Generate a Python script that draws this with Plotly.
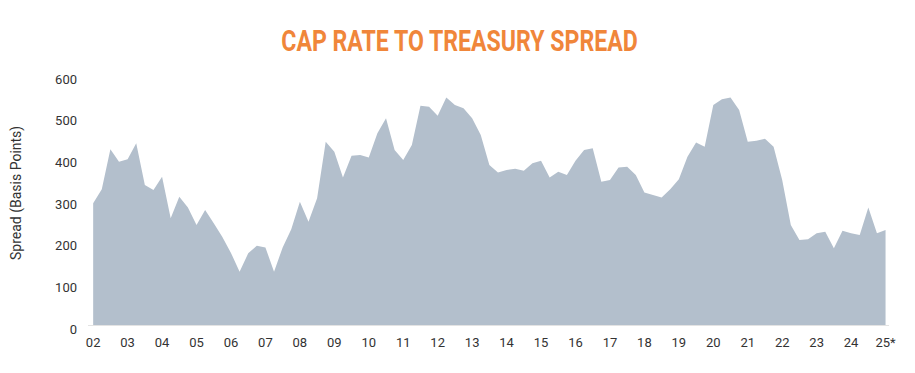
import plotly.graph_objects as go

# Quarterly data, 2002 Q1 .. 2025 Q1
start_year = 2002
spread_bps = [
    292, 326, 422, 392, 398, 436, 336, 324, 356, 256, 308, 282,
    240, 276, 244, 211, 173, 128, 172, 190, 186, 128, 186, 230,
    296, 248, 304, 440, 416, 354, 406, 408, 402, 460, 496, 420,
    396, 432, 526, 524, 502, 546, 528, 520, 496, 456, 384, 366,
    372, 375, 370, 388, 394, 354, 368, 360, 394, 420, 424, 344,
    348, 378, 380, 360, 318, 312, 306, 326, 350, 404, 438, 428,
    528, 542, 546, 516, 440, 442, 447, 428, 348, 240, 204, 206,
    220, 224, 184, 226, 220, 216, 282, 220, 228,
]
quarter_x = [start_year + i / 4 for i in range(len(spread_bps))]

tick_years = list(range(2002, 2026))
tick_labels = ["02", "03", "04", "05", "06", "07", "08", "09", "10", "11", "12",
               "13", "14", "15", "16", "17", "18", "19", "20", "21", "22", "23",
               "24", "25*"]
y_ticks = [0, 100, 200, 300, 400, 500, 600]

W, H = 915, 373
ML, MR, MT, MB = 88, 26, 75, 48
TITLE_CX = 459.5

fig = go.Figure()
fig.add_trace(go.Scatter(
    x=quarter_x, y=spread_bps, mode="lines", fill="tozeroy",
    line=dict(width=0, color="#B3BFCC"), fillcolor="#B3BFCC",
    hoverinfo="x+y", showlegend=False,
))

fig.update_layout(
    width=W, height=H,
    margin=dict(l=ML, r=MR, t=MT, b=MB, autoexpand=False),
    paper_bgcolor="white", plot_bgcolor="white",
    title=dict(
        text="<b>CAP RATE TO TREASURY SPREAD</b>",
        x=TITLE_CX / W, xanchor="center", xref="container",
        y=1 - 41 / H, yanchor="middle", yref="container",
        font=dict(family="Roboto, sans-serif", size=30, color="#F0863A"),
    ),
    font=dict(family="Roboto, sans-serif", size=13, color="#333333"),
    annotations=[dict(
        text="Spread (Basis Points)", textangle=-90,
        xref="paper", yref="paper",
        x=(16 - ML) / (W - ML - MR), y=(H - MB - 193) / (H - MB - MT),
        xanchor="center", yanchor="middle", showarrow=False,
        font=dict(family="Roboto, sans-serif", size=14, color="#333333"),
    )],
)
fig.update_xaxes(
    range=[2001.85, 2025.1], tickvals=tick_years, ticktext=tick_labels,
    showgrid=False, zeroline=False, showline=True, linecolor="#E3E3E3", linewidth=1,
    ticks="", automargin=False, ticklabelstandoff=5,
    tickfont=dict(size=13, color="#333333"),
)
fig.update_yaxes(
    range=[0, 600], tickvals=y_ticks, showgrid=False, zeroline=False,
    ticks="", automargin=False, ticklabelstandoff=10, ticklabelshift=4,
    tickfont=dict(size=13, color="#333333"),
)

post = """
document.body.style.margin = '0';
document.documentElement.style.margin = '0';
var s = document.createElement('style');
s.textContent = '.gtitle { transform-box: view-box; transform-origin: %spx 0px; transform: scaleX(0.77); }';
document.head.appendChild(s);
""" % TITLE_CX
fig.write_html("out.html", post_script=post, config={"displayModeBar": False})
